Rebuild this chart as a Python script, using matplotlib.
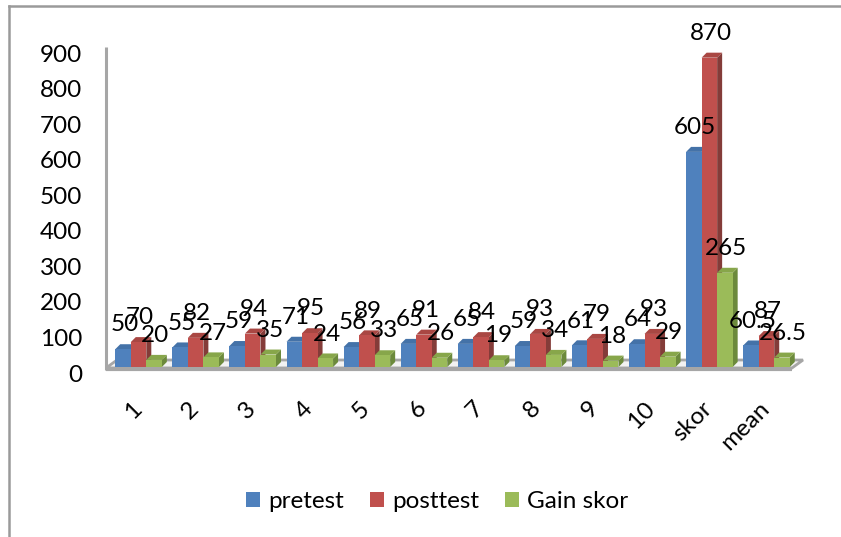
import matplotlib
matplotlib.use('Agg')
import matplotlib.pyplot as plt
from matplotlib.patches import Polygon, Patch
from matplotlib.transforms import ScaledTranslation

plt.rcParams['font.family'] = ['Lato', 'DejaVu Sans']

categories = ['1', '2', '3', '4', '5', '6', '7', '8', '9', '10', 'skor', 'mean']
pretest = [50, 55, 59, 71, 56, 65, 65, 59, 61, 64, 605, 60.5]
posttest = [70, 82, 94, 95, 89, 91, 84, 93, 79, 93, 870, 87]
gain = [20, 27, 35, 24, 33, 26, 19, 34, 18, 29, 265, 26.5]
pre_labels = ['50', '55', '59', '71', '56', '65', '65', '59', '61', '64', '605', '60.5']
post_labels = ['70', '82', '94', '95', '89', '91', '84', '93', '79', '93', '870', '87']
gain_labels = ['20', '27', '35', '24', '33', '26', '19', '34', '18', '29', '265', '26.5']

W, H = 841, 537
fig = plt.figure(figsize=(W / 100, H / 100), dpi=100)

# Plotbereich in Pixeln: x 110..795, y 47..367
ax = fig.add_axes([110 / W, 1 - 367 / H, 685 / W, 320 / H])
ax.set_xlim(-0.5, 11.5)
ax.set_ylim(0, 900)
for s in ax.spines.values():
    s.set_visible(False)

px_x = 12 / 685
px_y = 900 / 320
bar_w = 0.272
depth_x = 5 * px_x
depth_y = 5 * px_y

# Boden und Wand
xl, xr = -0.5 - 4 * px_x, 11.5 - 3 * px_x
ax.add_patch(Polygon([(xl, -1 * px_y), (xr, -1 * px_y), (xr + 11 * px_x, 7 * px_y), (xl + 11 * px_x, 7 * px_y)],
                     closed=True, facecolor='#f2f2f2', edgecolor='#a6a6a6', linewidth=2, clip_on=False, zorder=1))
ax.plot([xl, xr], [-2 * px_y, -2 * px_y], color='#a6a6a6', linewidth=3, clip_on=False, zorder=1.5, solid_capstyle='butt')
ax.plot([xl, xl], [-3 * px_y, 900], color='#a6a6a6', linewidth=2.2, clip_on=False, zorder=1.5, solid_capstyle='butt')

series = [
    (pretest, pre_labels, 'pretest', '#4f81bd', '#3a5f8c', '#4472a8'),
    (posttest, post_labels, 'posttest', '#c0504d', '#843c39', '#a94743'),
    (gain, gain_labels, 'Gain skor', '#9bbb59', '#6c8a3c', '#87a64a'),
]

for i, (values, labels, name, col, side, top) in enumerate(series):
    z = 3 + i
    offs = [j + (i - 1) * bar_w for j in range(len(values))]
    for x, v in zip(offs, values):
        l, r = x - bar_w / 2, x + bar_w / 2
        ax.add_patch(Polygon([(r, 0), (r + depth_x, depth_y), (r + depth_x, v + depth_y), (r, v)],
                             closed=True, facecolor=side, edgecolor='none', zorder=z, clip_on=False))
        ax.add_patch(Polygon([(l, v), (l + depth_x, v + depth_y), (r + depth_x, v + depth_y), (r, v)],
                             closed=True, facecolor=top, edgecolor='none', zorder=z, clip_on=False))
    ax.bar(offs, values, width=bar_w, color=col, zorder=z)
    for x, v, t in zip(offs, values, labels):
        ax.annotate(t, (x, v), xytext=(1, 17.5), textcoords='offset points', ha='center', va='center',
                    fontsize=17.5, color='black', zorder=10, annotation_clip=False)

ax.set_yticks(range(0, 901, 100))
ax.tick_params(axis='y', length=0, pad=20, labelsize=17.5)
ax.set_xticks(range(len(categories)))
ax.set_xticklabels(categories, rotation=45, ha='right', va='top', rotation_mode='anchor', fontsize=17.5)
ax.tick_params(axis='x', length=0, pad=22)
shift = ScaledTranslation(0, -6 / 100, fig.dpi_scale_trans)
for lab in ax.get_yticklabels():
    lab.set_transform(lab.get_transform() + shift)
shift_x = ScaledTranslation(-8 / 100, 0, fig.dpi_scale_trans)
for lab in ax.get_xticklabels():
    lab.set_transform(lab.get_transform() + shift_x)

handles = [Patch(facecolor=s[3], label=s[2]) for s in series]
fig.legend(handles=handles, loc='center', bbox_to_anchor=(437 / W, 1 - 502 / H), ncol=3, frameon=False,
           fontsize=17.5, handlelength=0.58, handleheight=0.58, handletextpad=0.33, columnspacing=1.07)

# Rahmen nur links und oben
fig.add_artist(plt.Line2D([9 / W, 9 / W], [0, 1 - 6 / H], color='#9a9a9a', linewidth=1.8))
fig.add_artist(plt.Line2D([9 / W, 1], [1 - 6 / H, 1 - 6 / H], color='#9a9a9a', linewidth=1.8))

fig.savefig('out.png', dpi=100)
